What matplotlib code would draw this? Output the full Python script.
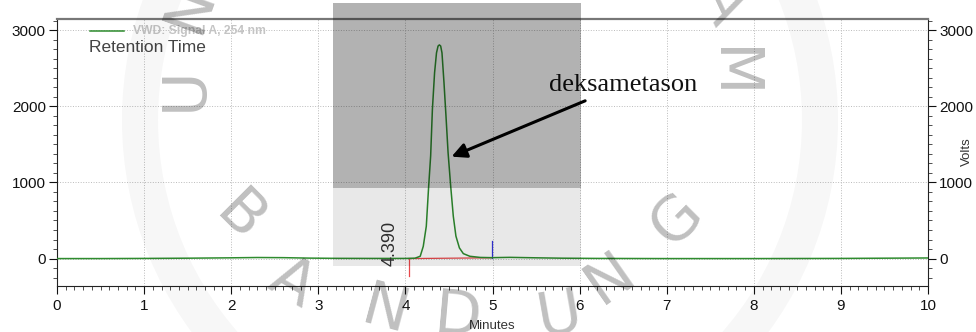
import matplotlib
matplotlib.use("Agg")
import matplotlib.pyplot as plt
from matplotlib.patches import Rectangle, Ellipse
from matplotlib.ticker import MultipleLocator

plt.rcParams['font.family'] = ['Liberation Sans', 'DejaVu Sans']

# chromatogram trace (minutes, volts)
time_min = [0, 0.5, 1.0, 1.5, 2.0, 2.3, 2.6, 2.9, 3.2, 3.6, 4.0, 4.11, 4.17,
            4.205, 4.24, 4.265, 4.29, 4.31, 4.335, 4.357, 4.375, 4.39, 4.405,
            4.42, 4.443, 4.466, 4.49, 4.52, 4.55, 4.58, 4.62, 4.665, 4.74,
            4.86, 4.99, 5.2, 5.5, 5.8, 6.2, 7.0, 8.0, 9.0, 9.5, 10.0]
signal = [0, 0, 2, 5, 10, 14, 12, 6, 3, 2, 2, 5, 30,
          160, 425, 910, 1350, 1960, 2440, 2700, 2790, 2805, 2790,
          2700, 2310, 1870, 1390, 950, 555, 295, 140, 65, 30,
          15, 12, 16, 10, 5, 2, 0, 0, 2, 5, 8]

# integration marks
baseline_t = [4.04, 4.99]
baseline_v = [0, 10]
peak_start = 4.04
peak_start_low = -235
peak_end = 4.99
peak_end_high = 227
retention = "4.390"
compound = "deksametason"

fig = plt.figure(figsize=(9.76, 3.32), dpi=100)
ax = fig.add_axes([57 / 976, 1 - 286 / 332, 871 / 976, 267 / 332])

ax.plot(time_min, signal, color='#2e8b2e', lw=1.1, zorder=3)
ax.plot(baseline_t, baseline_v, color='#e8474a', lw=0.9, zorder=2)
ax.plot([peak_start, peak_start], [0, peak_start_low], color='#e8474a', lw=0.9)
ax.plot([peak_end, peak_end], [baseline_v[1], peak_end_high], color='#3333dd', lw=0.9)

ax.set_xlim(0, 10)
ax.set_ylim(-360, 3145)
ax.xaxis.set_major_locator(MultipleLocator(1))
ax.xaxis.set_minor_locator(MultipleLocator(0.1))
ax.yaxis.set_major_locator(MultipleLocator(1000))
ax.yaxis.set_minor_locator(MultipleLocator(125))
ax.tick_params(axis='both', which='major', labelsize=11, colors='#111', length=6, width=0.8, pad=3)
ax.tick_params(axis='both', which='minor', length=3, width=0.6, color='#333')
ax.tick_params(axis='y', which='both', right=True, labelright=True)
ax.tick_params(axis='y', which='major', pad=2)
ax.grid(True, which='major', ls=':', color='#bbbbbb', lw=0.7)

for s in ['left', 'right', 'bottom']:
    ax.spines[s].set_color('#222')
    ax.spines[s].set_linewidth(0.8)
ax.spines['top'].set_color('#777')
ax.spines['top'].set_linewidth(1.6)

ax.set_xlabel('Minutes', fontsize=9.5, color='#333', labelpad=1)
ax.xaxis.set_label_coords(0.5, -0.128)
fig.text(967 / 976, 1 - 152 / 332, 'Volts', rotation=90, fontsize=9.5,
         color='#333', ha='center', va='center')

# legend block
ax.plot([0.038, 0.077], [0.955, 0.955], transform=ax.transAxes, color='#2e8b2e', lw=1.1)
ax.text(0.087, 0.955, 'VWD: Signal A, 254 nm', transform=ax.transAxes, fontsize=8.7,
        fontweight='bold', color='#c4c4c4', va='center', ha='left')
ax.text(0.037, 0.892, 'Retention Time', transform=ax.transAxes, fontsize=12.5,
        color='#444', va='center', ha='left')

ax.text(3.82, 205, retention, rotation=90, fontsize=13, color='#333', ha='center', va='center')

ax.annotate(compound, xy=(4.53, 1338), xytext=(5.65, 2280),
            fontsize=19, family='Liberation Serif', color='#111', va='center', ha='left',
            arrowprops=dict(arrowstyle='-|>', color='black', lw=2.2, mutation_scale=22,
                            shrinkA=4, shrinkB=0))

# watermark on top of everything
W, H = 976, 332
fig.add_artist(Rectangle((333 / W, 1 - 188 / H), 248 / W, 185 / H, transform=fig.transFigure,
                         facecolor='black', alpha=0.3, edgecolor='none', zorder=10))
fig.add_artist(Rectangle((333 / W, 1 - 266 / H), 248 / W, 78 / H, transform=fig.transFigure,
                         facecolor='black', alpha=0.09, edgecolor='none', zorder=10))
fig.add_artist(Ellipse((480 / W, 1 - 120 / H), 680 / W, 680 / H, transform=fig.transFigure,
                       facecolor='none', edgecolor='black', alpha=0.03, lw=26, zorder=10))

letters = [('B', 240, 218, -45), ('A', 292, 283, -30), ('N', 385, 312, -15),
           ('D', 458, 318, -5), ('U', 560, 316, 10), ('N', 610, 278, 35),
           ('G', 677, 220, 45), ('U', 185, 89, 90), ('N', 190, 8, 70),
           ('M', 730, 73, -90), ('A', 722, 2, -65)]
for ch, px, py, rot in letters:
    fig.text(px / W, 1 - py / H, ch, fontsize=44, family='DejaVu Sans', color='black',
             alpha=0.25, rotation=rot, ha='center', va='center', zorder=11)

fig.savefig('out.png', dpi=100)
